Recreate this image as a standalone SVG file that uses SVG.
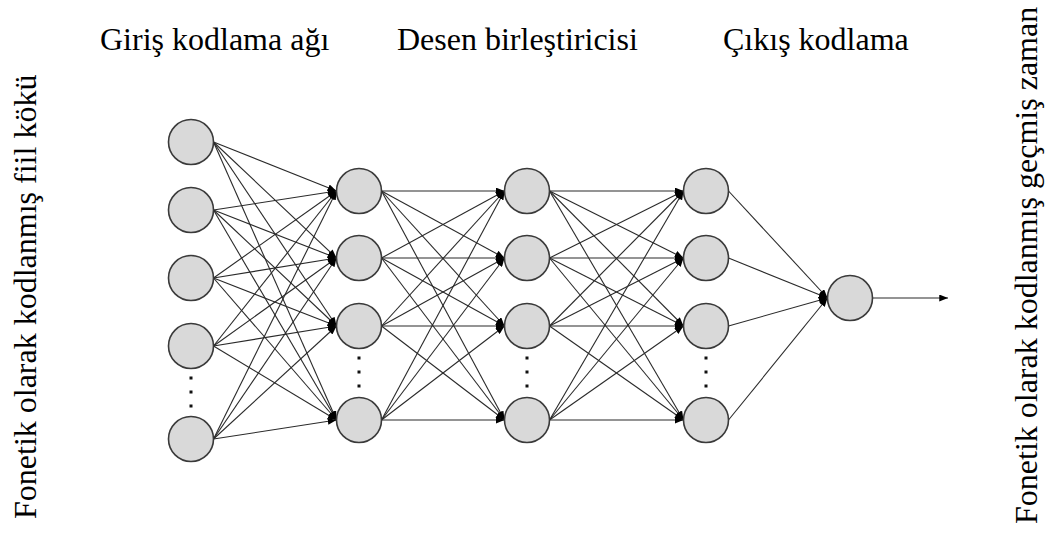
<svg xmlns="http://www.w3.org/2000/svg" width="1047" height="533" viewBox="0 0 1047 533">
  <style>
    .node { fill: #d9d9d9; stroke: #3a3a3a; stroke-width: 1.6; }
    .edge { stroke: #2a2a2a; stroke-width: 1.1; fill: none; marker-end: url(#head); }
    .dot { fill: #111; }
  </style>
  <defs>
    <marker id="head" viewBox="0 0 10 8" refX="10" refY="4" markerWidth="9" markerHeight="7" markerUnits="userSpaceOnUse" orient="auto">
      <path d="M0,0 L10,4 L0,8 Z" fill="#000"/>
    </marker>
  </defs>
  <rect width="1047" height="533" fill="#fff"/>

  <!-- titles -->
  <g id="titles" font-family="'Liberation Serif', 'Times New Roman', Times, serif" font-size="32" fill="#000">
    <text x="100" y="50">Giriş kodlama ağı</text>
    <text x="397" y="50">Desen birleştiricisi</text>
    <text x="723" y="50">Çıkış kodlama</text>
    <text x="36" y="519" transform="rotate(-90 36 519)">Fonetik olarak kodlanmış fiil kökü</text>
    <text x="1037" y="524" transform="rotate(-90 1037 524)">Fonetik olarak kodlanmış geçmiş zaman</text>
  </g>

  <!-- connectors -->
  <g id="connectors">
    <!-- input layer to first hidden layer -->
    <line class="edge" x1="213.5" y1="142" x2="336.5" y2="191"/>
    <line class="edge" x1="213.5" y1="142" x2="336.5" y2="258"/>
    <line class="edge" x1="213.5" y1="142" x2="336.5" y2="326"/>
    <line class="edge" x1="213.5" y1="142" x2="336.5" y2="420"/>
    <line class="edge" x1="213.5" y1="210" x2="336.5" y2="191"/>
    <line class="edge" x1="213.5" y1="210" x2="336.5" y2="258"/>
    <line class="edge" x1="213.5" y1="210" x2="336.5" y2="326"/>
    <line class="edge" x1="213.5" y1="210" x2="336.5" y2="420"/>
    <line class="edge" x1="213.5" y1="278" x2="336.5" y2="191"/>
    <line class="edge" x1="213.5" y1="278" x2="336.5" y2="258"/>
    <line class="edge" x1="213.5" y1="278" x2="336.5" y2="326"/>
    <line class="edge" x1="213.5" y1="278" x2="336.5" y2="420"/>
    <line class="edge" x1="213.5" y1="346" x2="336.5" y2="191"/>
    <line class="edge" x1="213.5" y1="346" x2="336.5" y2="258"/>
    <line class="edge" x1="213.5" y1="346" x2="336.5" y2="326"/>
    <line class="edge" x1="213.5" y1="346" x2="336.5" y2="420"/>
    <line class="edge" x1="213.5" y1="439" x2="336.5" y2="191"/>
    <line class="edge" x1="213.5" y1="439" x2="336.5" y2="258"/>
    <line class="edge" x1="213.5" y1="439" x2="336.5" y2="326"/>
    <line class="edge" x1="213.5" y1="439" x2="336.5" y2="420"/>
    <!-- first hidden layer to pattern layer -->
    <line class="edge" x1="381.5" y1="191" x2="504.5" y2="191"/>
    <line class="edge" x1="381.5" y1="191" x2="504.5" y2="258"/>
    <line class="edge" x1="381.5" y1="191" x2="504.5" y2="326"/>
    <line class="edge" x1="381.5" y1="191" x2="504.5" y2="420"/>
    <line class="edge" x1="381.5" y1="258" x2="504.5" y2="191"/>
    <line class="edge" x1="381.5" y1="258" x2="504.5" y2="258"/>
    <line class="edge" x1="381.5" y1="258" x2="504.5" y2="326"/>
    <line class="edge" x1="381.5" y1="258" x2="504.5" y2="420"/>
    <line class="edge" x1="381.5" y1="326" x2="504.5" y2="191"/>
    <line class="edge" x1="381.5" y1="326" x2="504.5" y2="258"/>
    <line class="edge" x1="381.5" y1="326" x2="504.5" y2="326"/>
    <line class="edge" x1="381.5" y1="326" x2="504.5" y2="420"/>
    <line class="edge" x1="381.5" y1="420" x2="504.5" y2="191"/>
    <line class="edge" x1="381.5" y1="420" x2="504.5" y2="258"/>
    <line class="edge" x1="381.5" y1="420" x2="504.5" y2="326"/>
    <line class="edge" x1="381.5" y1="420" x2="504.5" y2="420"/>
    <!-- pattern layer to output coding layer -->
    <line class="edge" x1="549.5" y1="191" x2="683.5" y2="191"/>
    <line class="edge" x1="549.5" y1="191" x2="683.5" y2="258"/>
    <line class="edge" x1="549.5" y1="191" x2="683.5" y2="326"/>
    <line class="edge" x1="549.5" y1="191" x2="683.5" y2="420"/>
    <line class="edge" x1="549.5" y1="258" x2="683.5" y2="191"/>
    <line class="edge" x1="549.5" y1="258" x2="683.5" y2="258"/>
    <line class="edge" x1="549.5" y1="258" x2="683.5" y2="326"/>
    <line class="edge" x1="549.5" y1="258" x2="683.5" y2="420"/>
    <line class="edge" x1="549.5" y1="326" x2="683.5" y2="191"/>
    <line class="edge" x1="549.5" y1="326" x2="683.5" y2="258"/>
    <line class="edge" x1="549.5" y1="326" x2="683.5" y2="326"/>
    <line class="edge" x1="549.5" y1="326" x2="683.5" y2="420"/>
    <line class="edge" x1="549.5" y1="420" x2="683.5" y2="191"/>
    <line class="edge" x1="549.5" y1="420" x2="683.5" y2="258"/>
    <line class="edge" x1="549.5" y1="420" x2="683.5" y2="326"/>
    <line class="edge" x1="549.5" y1="420" x2="683.5" y2="420"/>
    <!-- output coding layer to output unit -->
    <line class="edge" x1="728.5" y1="191" x2="827.5" y2="298"/>
    <line class="edge" x1="728.5" y1="258" x2="827.5" y2="298"/>
    <line class="edge" x1="728.5" y1="326" x2="827.5" y2="298"/>
    <line class="edge" x1="728.5" y1="420" x2="827.5" y2="298"/>
    <!-- result -->
    <line class="edge" x1="872.5" y1="298" x2="948" y2="298"/>
  </g>

  <!-- input layer -->
  <g id="in1"><circle class="node" cx="191" cy="142" r="22.5"/></g>
  <g id="in2"><circle class="node" cx="191" cy="210" r="22.5"/></g>
  <g id="in3"><circle class="node" cx="191" cy="278" r="22.5"/></g>
  <g id="in4"><circle class="node" cx="191" cy="346" r="22.5"/></g>
  <g id="in-dots"><rect class="dot" x="189.5" y="376.5" width="3" height="3"/><rect class="dot" x="189.5" y="390.5" width="3" height="3"/><rect class="dot" x="189.5" y="404.5" width="3" height="3"/></g>
  <g id="in5"><circle class="node" cx="191" cy="439" r="22.5"/></g>

  <!-- first hidden layer -->
  <g id="h1a"><circle class="node" cx="359" cy="191" r="22.5"/></g>
  <g id="h1b"><circle class="node" cx="359" cy="258" r="22.5"/></g>
  <g id="h1c"><circle class="node" cx="359" cy="326" r="22.5"/></g>
  <g id="h1-dots"><rect class="dot" x="357.5" y="356.5" width="3" height="3"/><rect class="dot" x="357.5" y="370.5" width="3" height="3"/><rect class="dot" x="357.5" y="384.5" width="3" height="3"/></g>
  <g id="h1d"><circle class="node" cx="359" cy="420" r="22.5"/></g>

  <!-- pattern layer -->
  <g id="h2a"><circle class="node" cx="527" cy="191" r="22.5"/></g>
  <g id="h2b"><circle class="node" cx="527" cy="258" r="22.5"/></g>
  <g id="h2c"><circle class="node" cx="527" cy="326" r="22.5"/></g>
  <g id="h2-dots"><rect class="dot" x="525.5" y="356.5" width="3" height="3"/><rect class="dot" x="525.5" y="370.5" width="3" height="3"/><rect class="dot" x="525.5" y="384.5" width="3" height="3"/></g>
  <g id="h2d"><circle class="node" cx="527" cy="420" r="22.5"/></g>

  <!-- output coding layer -->
  <g id="h3a"><circle class="node" cx="706" cy="191" r="22.5"/></g>
  <g id="h3b"><circle class="node" cx="706" cy="258" r="22.5"/></g>
  <g id="h3c"><circle class="node" cx="706" cy="326" r="22.5"/></g>
  <g id="h3-dots"><rect class="dot" x="704.5" y="356.5" width="3" height="3"/><rect class="dot" x="704.5" y="370.5" width="3" height="3"/><rect class="dot" x="704.5" y="384.5" width="3" height="3"/></g>
  <g id="h3d"><circle class="node" cx="706" cy="420" r="22.5"/></g>

  <!-- output unit -->
  <g id="out"><circle class="node" cx="850" cy="298" r="22.5"/></g>
</svg>
